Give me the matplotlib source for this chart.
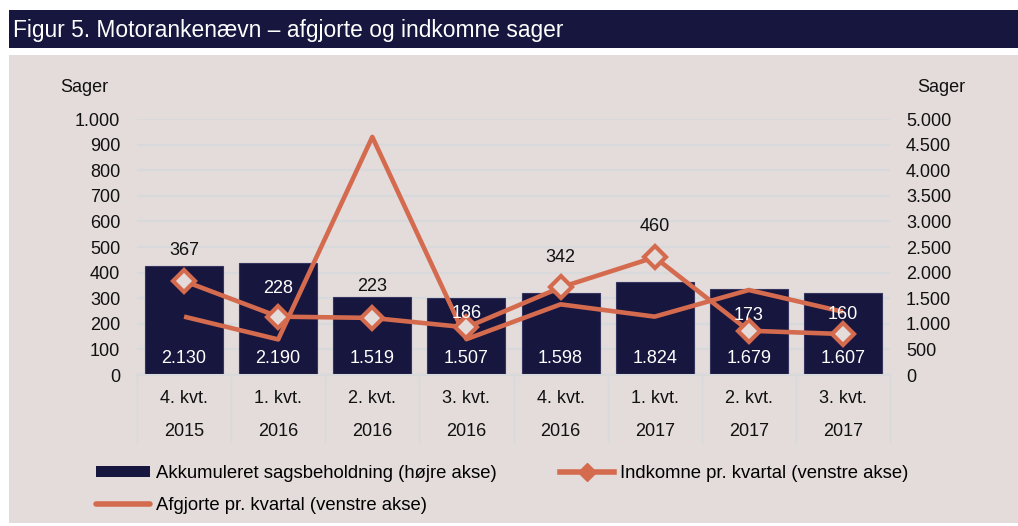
import matplotlib
matplotlib.use('Agg')
import matplotlib.pyplot as plt
from matplotlib.patches import Rectangle, Patch
from matplotlib.lines import Line2D

plt.rcParams['font.family'] = ['Liberation Sans', 'DejaVu Sans']

# ---- data ----
quarters = ['4. kvt.', '1. kvt.', '2. kvt.', '3. kvt.', '4. kvt.', '1. kvt.', '2. kvt.', '3. kvt.']
years = ['2015', '2016', '2016', '2016', '2016', '2017', '2017', '2017']
beholdning = [2130, 2190, 1519, 1507, 1598, 1824, 1679, 1607]
indkomne = [367, 228, 223, 186, 342, 460, 173, 160]
afgjorte = [228, 139, 930, 140, 276, 228, 332, 247]

title = 'Figur 5. Motorankenævn – afgjorte og indkomne sager'
lbl_bar = 'Akkumuleret sagsbeholdning (højre akse)'
lbl_ind = 'Indkomne pr. kvartal (venstre akse)'
lbl_afg = 'Afgjorte pr. kvartal (venstre akse)'

# ---- style ----
NAVY = '#16163e'
PANEL = '#e3dcdb'
ORANGE = '#d46b4f'
GRID = '#d7d9db'
TXT = '#111111'
FS = 13

W, H = 1018, 526
fig = plt.figure(figsize=(W / 100, H / 100), dpi=100, facecolor='white')

def fx(px):
    return px / W

def fy(py):
    return 1 - py / H

fig.patches.append(Rectangle((fx(9), fy(48)), 1 - fx(9), (48 - 10) / H,
                             transform=fig.transFigure, facecolor=NAVY, edgecolor='none', zorder=0))
fig.patches.append(Rectangle((fx(9), fy(523)), 1 - fx(9), (523 - 55) / H,
                             transform=fig.transFigure, facecolor=PANEL, edgecolor='none', zorder=0))
fig.text(fx(13), fy(30), title, color='white', fontsize=16.4, va='center', ha='left')

L, R, T, B = 137, 890, 119, 375
ax = fig.add_axes([fx(L), fy(B), (R - L) / W, (B - T) / H])
ax2 = ax.twinx()
ax.set_zorder(2)
ax2.set_zorder(1)
ax.patch.set_visible(False)
ax2.patch.set_visible(False)

x = list(range(len(quarters)))

def fmt(v):
    return f'{v:,}'.replace(',', '.')

# bars on right axis
ax2.bar(x, beholdning, width=0.83, color=NAVY, edgecolor='#35355f', linewidth=0.8, zorder=2)
ax2.set_ylim(0, 5000)
ax2.set_yticks(range(0, 5001, 500))
ax2.set_yticklabels([fmt(v) for v in range(0, 5001, 500)], fontsize=FS, color=TXT)
ax2.tick_params(axis='y', length=0, pad=11.5)
ax2.yaxis.grid(True, color=GRID, linewidth=1.5, zorder=0)
ax2.set_axisbelow(True)
for i, v in enumerate(beholdning):
    ax2.annotate(fmt(v), (i, 0), xytext=(0, 12.2), textcoords='offset points',
                 ha='center', va='center', color='white', fontsize=FS, zorder=3)

# lines on left axis
ax.plot(x, afgjorte, color=ORANGE, linewidth=3.3, solid_capstyle='butt', zorder=3)
ax.plot(x, indkomne, color=ORANGE, linewidth=3.3, marker='D', markersize=11.5,
        markerfacecolor=PANEL, markeredgecolor=ORANGE, markeredgewidth=3, zorder=4)
label_off_px = [31, 28, 31, 14, 30, 31, 15, 20]
label_col = [TXT, 'white', TXT, 'white', TXT, TXT, 'white', 'white']
for i, v in enumerate(indkomne):
    ax.annotate(fmt(v), (i, v), xytext=(0, label_off_px[i] * 0.72), textcoords='offset points',
                ha='center', va='center', color=label_col[i], fontsize=FS, zorder=5)

ax.set_xlim(-0.5, len(quarters) - 0.5)
ax.set_ylim(0, 1000)
ax.set_yticks(range(0, 1001, 100))
ax.set_yticklabels([fmt(v) for v in range(0, 1001, 100)], fontsize=FS, color=TXT)
ax.tick_params(axis='y', length=0, pad=12)

ax.set_xticks(x)
ax.set_xticklabels([f'{q}\n{y}' for q, y in zip(quarters, years)], fontsize=FS,
                   color=TXT, linespacing=2.2)
ax.tick_params(axis='x', which='major', length=0, pad=11)
ax.set_xticks([i - 0.5 for i in range(len(quarters) + 1)], minor=True)
ax.tick_params(axis='x', which='minor', length=49, width=1, color=GRID, direction='out')

for a in (ax, ax2):
    for s in ('top', 'left', 'right'):
        a.spines[s].set_visible(False)
ax2.spines['bottom'].set_visible(False)
ax.spines['bottom'].set_color(GRID)
ax.spines['bottom'].set_linewidth(1.5)

fig.text(fx(84), fy(87), 'Sager', ha='center', va='center', fontsize=FS, color=TXT)
fig.text(fx(941), fy(87), 'Sager', ha='center', va='center', fontsize=FS, color=TXT)

h_bar = Patch(facecolor=NAVY, edgecolor='none')
h_afg = Line2D([], [], color=ORANGE, linewidth=4, solid_capstyle='round')
h_ind = Line2D([], [], color=ORANGE, linewidth=4, marker='D', markersize=9,
               markerfacecolor=ORANGE, markeredgecolor=ORANGE)
fig.legend([h_bar, h_afg, h_ind], [lbl_bar, lbl_afg, lbl_ind], ncol=2, loc='upper left',
           bbox_to_anchor=(fx(96), fy(465)), frameon=False, fontsize=13.3,
           borderpad=0, borderaxespad=0, handlelength=2.9, handleheight=0.6,
           handletextpad=0.33, labelspacing=0.8, columnspacing=3.45)

fig.savefig('out.png', dpi=100, facecolor='white')
